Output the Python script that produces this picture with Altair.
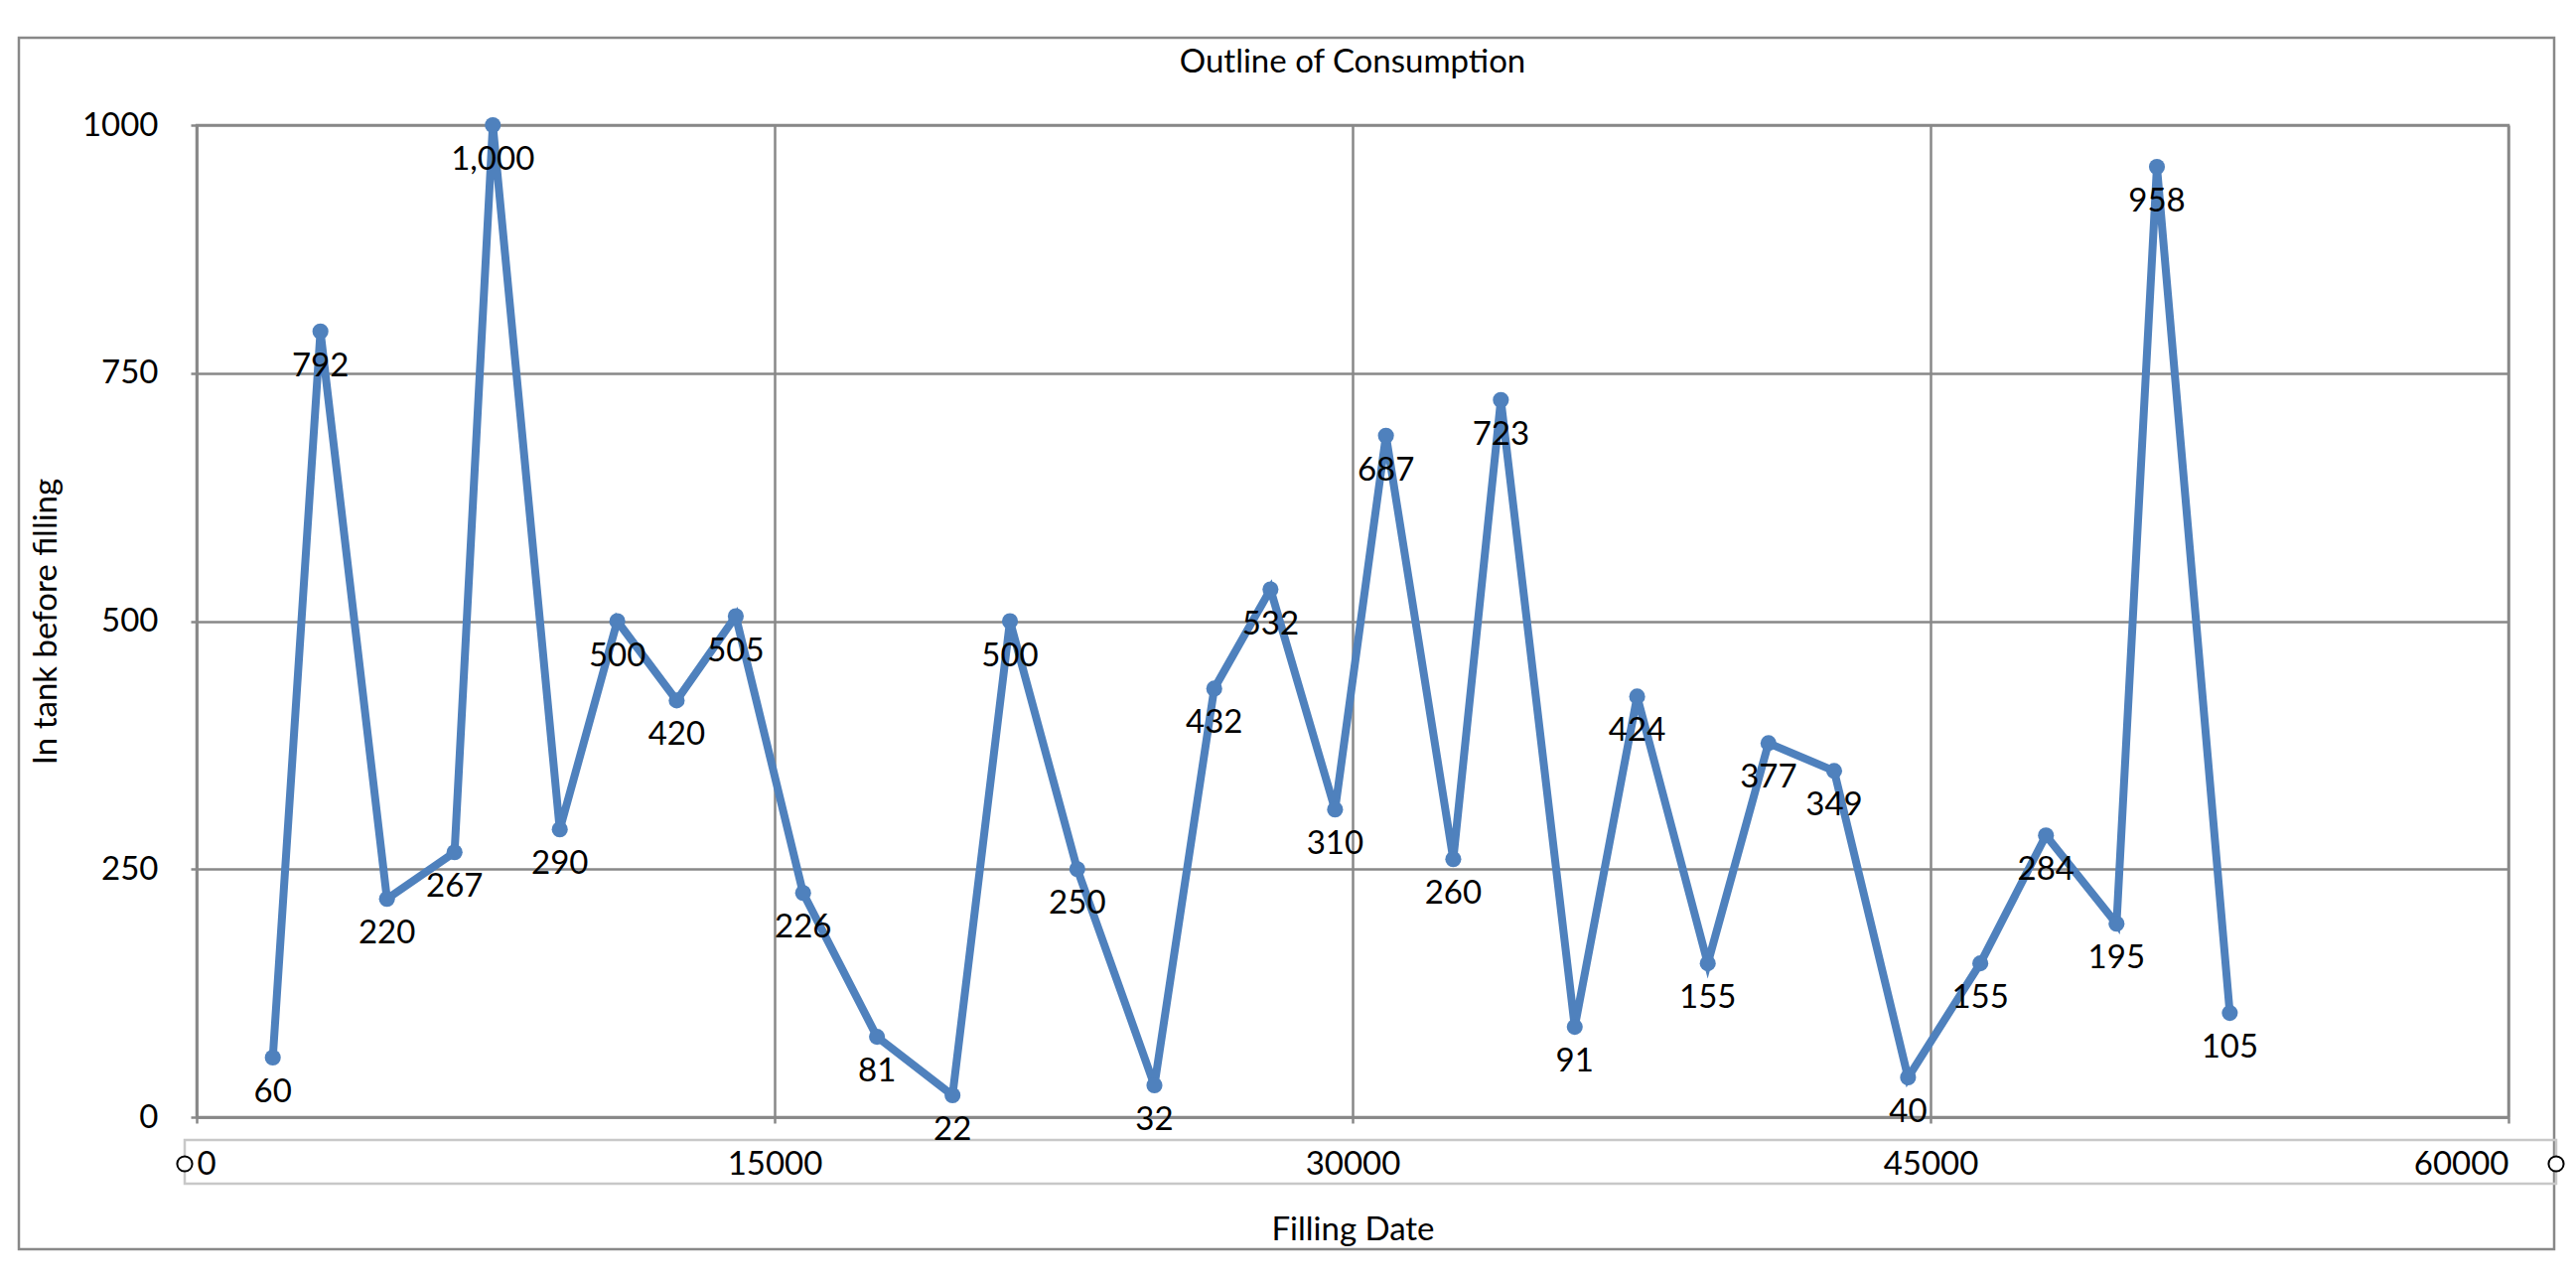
import altair as alt
import pandas as pd

# Data
filling_date = [1977, 3213, 4940, 6694, 7687, 9425, 10918, 12459, 13993, 15740,
                17658, 19618, 21109, 22856, 24858, 26410, 27870, 29546, 30867, 32614,
                33849, 35767, 37386, 39219, 40795, 42499, 44417, 46292, 47996, 49828,
                50876, 52768]
in_tank = [60, 792, 220, 267, 1000, 290, 500, 420, 505, 226,
           81, 22, 500, 250, 32, 432, 532, 310, 687, 260,
           723, 91, 424, 155, 377, 349, 40, 155, 284, 195,
           958, 105]
x_ticks = [0, 15000, 30000, 45000, 60000]
y_ticks = [0, 250, 500, 750, 1000]
chart_title = ["Outline of Consumption"]

df = pd.DataFrame({"date": filling_date, "tank": in_tank})
one = pd.DataFrame({"a": [0]})
title_df = pd.DataFrame({"t": chart_title})

FONT = "Lato"
FS = 33
BLUE = "#4F81BD"
GRID = "#888888"

W, H = 2328, 999

xenc = alt.X("date:Q", scale=alt.Scale(domain=[0, 60000], nice=False),
             axis=alt.Axis(values=x_ticks, format="d", grid=True, tickSize=6,
                           labelPadding=41, labelBaseline="middle",
                           title="Filling Date", titleX=W / 2, titleY=113,
                           titleBaseline="middle", titleAnchor="middle"))
yenc = alt.Y("tank:Q", scale=alt.Scale(domain=[0, 1000], nice=False),
             axis=alt.Axis(values=y_ticks, format="d", grid=True, tickSize=6,
                           labelPadding=33, labelBaseline="middle",
                           title="In tank before filling", titleX=-152, titleY=H / 2,
                           titleBaseline="middle", titleAnchor="middle"))

base = alt.Chart(df)
line = base.mark_line(color=BLUE, strokeWidth=8).encode(x=xenc, y=yenc)
pts = base.mark_circle(size=260, color=BLUE, opacity=1).encode(x="date:Q", y="tank:Q")
labels = base.mark_text(dy=35, fontSize=FS, font=FONT, color="black",
                        baseline="middle", align="center").encode(
    x="date:Q", y="tank:Q", text=alt.Text("tank:Q", format=","))

title = alt.Chart(title_df).mark_text(fontSize=FS, font=FONT, color="black",
                                      baseline="alphabetic", align="center").encode(
    x=alt.value(W / 2), y=alt.value(-53), text="t:N")

outer = alt.Chart(one).mark_rect(fill=None, stroke=GRID, strokeWidth=2.5).encode(
    x=alt.value(-179), x2=alt.value(2374), y=alt.value(-88), y2=alt.value(1132))
lblbox = alt.Chart(one).mark_rect(fill=None, stroke="#c8c8c8", strokeWidth=2.5).encode(
    x=alt.value(-12), x2=alt.value(2376), y=alt.value(1022), y2=alt.value(1066))
h1 = alt.Chart(one).mark_point(shape="circle", filled=True, fill="white", stroke="black",
                               strokeWidth=2, size=230, opacity=1).encode(
    x=alt.value(-12), y=alt.value(1046))
h2 = alt.Chart(one).mark_point(shape="circle", filled=True, fill="white", stroke="black",
                               strokeWidth=2, size=230, opacity=1).encode(
    x=alt.value(2376), y=alt.value(1046))

chart = alt.layer(outer, lblbox, line, pts, labels, title, h1, h2).properties(
    width=W, height=H,
    padding={"left": 190, "top": 118, "right": 60, "bottom": 150},
    autosize=alt.AutoSizeParams(type="none"),
).configure_view(stroke=GRID, strokeWidth=2.5).configure_axis(
    gridColor=GRID, gridWidth=2.5, domainColor=GRID, domainWidth=2.5,
    tickColor=GRID, tickWidth=2.5, labelFont=FONT, labelFontSize=FS,
    labelColor="black", titleFont=FONT, titleFontSize=FS, titleColor="black",
    titleFontWeight="normal"
)

chart.save("out.html", embed_options={"renderer": "svg", "actions": False})
